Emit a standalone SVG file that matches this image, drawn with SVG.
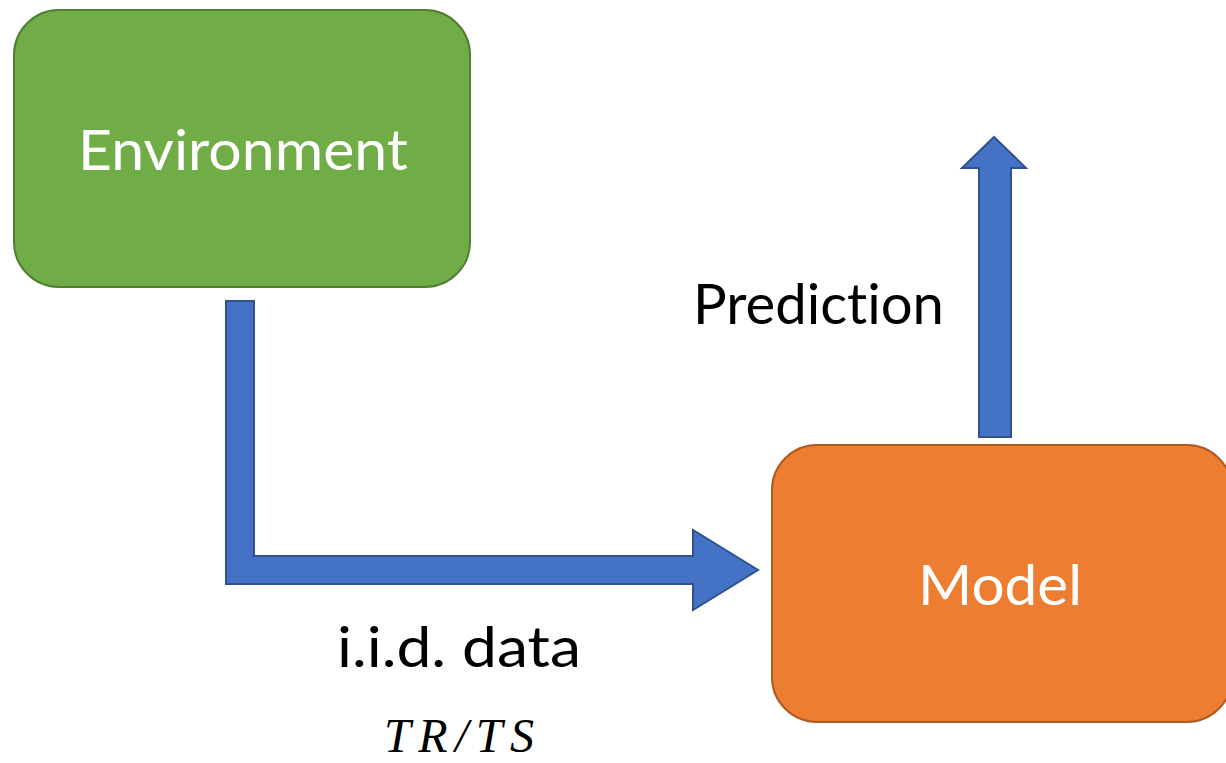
<svg xmlns="http://www.w3.org/2000/svg" width="1226" height="763" viewBox="0 0 1226 763">
  <style>
    .label { font-family: Lato, "Open Sans", "Liberation Sans", sans-serif; font-variant-ligatures: none; font-feature-settings: "liga" 0, "clig" 0; }
    .box-text { fill: #ffffff; font-size: 56px; text-anchor: middle; }
    .edge-text { fill: #000000; font-size: 56px; }
    .math { font-family: "Liberation Serif", "DejaVu Serif", serif; font-style: italic; font-size: 48px; fill: #000000; }
    .arrow { fill: #4472C4; stroke: #2F528F; stroke-width: 2; stroke-linejoin: miter; }
  </style>
  <rect width="1226" height="763" fill="#ffffff"/>

  <g id="connectors">
    <!-- bent arrow: Environment down, then right into Model -->
    <path id="edge-env-model" class="arrow" d="M226,301 L254,301 L254,556 L693,556 L693,530 L758,570 L693,610 L693,584 L226,584 Z"/>
    <!-- upward arrow out of Model -->
    <path id="edge-model-out" class="arrow" d="M979,437 L979,168 L962,168 L994,137 L1026,168 L1011,168 L1011,437 Z"/>
  </g>

  <g id="node-environment">
    <rect x="14" y="10" width="456" height="277" rx="45" ry="45" fill="#70AD47" stroke="#507E32" stroke-width="2"/>
    <text class="label box-text" x="243" y="170" textLength="330" lengthAdjust="spacingAndGlyphs">Environment</text>
  </g>

  <g id="node-model">
    <rect x="772" y="445" width="460" height="277" rx="45" ry="45" fill="#ED7D31" stroke="#AE5A21" stroke-width="2"/>
    <text class="label box-text" x="1000" y="605" textLength="164" lengthAdjust="spacingAndGlyphs">Model</text>
  </g>

  <g id="labels">
    <text class="label edge-text" x="693" y="324" textLength="251" lengthAdjust="spacingAndGlyphs">Prediction</text>
    <text class="label edge-text" x="337" y="667" textLength="244" lengthAdjust="spacingAndGlyphs">i.i.d. data</text>
    <text class="math" x="384" y="752" textLength="150" lengthAdjust="spacing">TR/TS</text>
  </g>
</svg>
